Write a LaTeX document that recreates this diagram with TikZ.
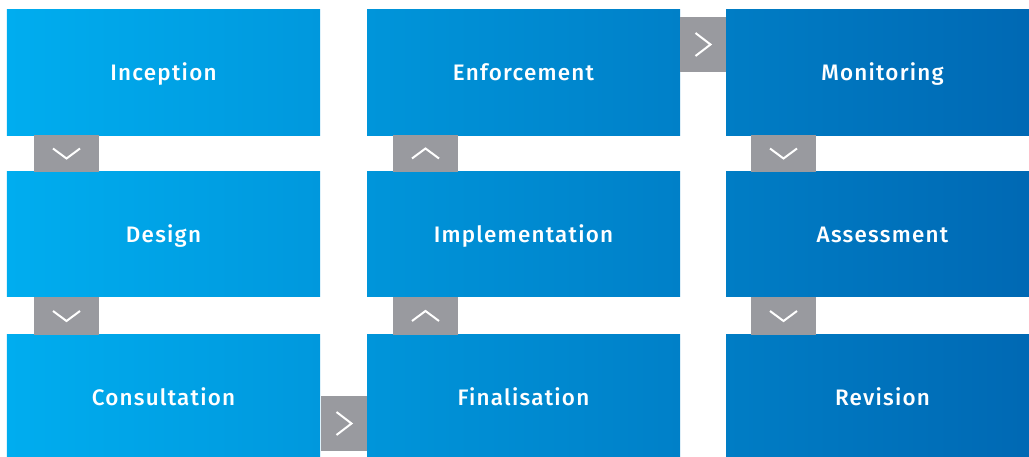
\documentclass[tikz,border=0pt]{standalone}
\usepackage{fontspec}
\newfontfamily\boxfont[LetterSpace=5.5]{Fira Sans Medium}
\definecolor{bl1}{RGB}{0,173,239}
\definecolor{bl2}{RGB}{0,152,221}
\definecolor{bl3}{RGB}{0,149,218}
\definecolor{bl4}{RGB}{0,128,200}
\definecolor{bl5}{RGB}{0,125,197}
\definecolor{bl6}{RGB}{0,104,179}
\definecolor{linkgrey}{RGB}{153,154,159}

\begin{document}
\begin{tikzpicture}[x=1bp,y=-1bp,
   box/.style 2 args={rectangle,minimum width=313bp,minimum height=125bp,inner sep=0pt,
      text height=15.5bp,text depth=0pt,
      left color=#1,right color=#2,text=white,font=\boxfont\fontsize{22.5}{27}\selectfont},
   link/.style 2 args={rectangle,fill=linkgrey,minimum width=#1,minimum height=#2,inner sep=0pt},
   chev/.style={draw=white,line width=2bp}]
   \useasboundingbox (0,0) rectangle (1029,457);

   \node[box={bl1}{bl2}, minimum height=126bp] (b1) at (163.5,72.5)  {Inception};
   \node[box={bl1}{bl2}] (b2) at (163.5,234.5) {Design};
   \node[box={bl1}{bl2}] (b3) at (163.5,397.5) {Consultation};

   \node[box={bl3}{bl4}, minimum height=126bp] (b4) at (523.5,72.5)  {Enforcement};
   \node[box={bl3}{bl4}] (b5) at (523.5,234.5) {Implementation};
   \node[box={bl3}{bl4}] (b6) at (523.5,397.5) {Finalisation};

   \node[box={bl5}{bl6}, minimum height=126bp] (b7) at (882.5,72.5)  {Monitoring};
   \node[box={bl5}{bl6}] (b8) at (882.5,234.5) {Assessment};
   \node[box={bl5}{bl6}] (b9) at (882.5,397.5) {Revision};


   \node[link={65bp}{37bp}] (g1) at (66.5,153.5) {};
   \node[link={65bp}{38bp}] (g2) at (66.5,316) {};
   \node[link={46bp}{55bp}] (g3) at (344,423.5) {};
   \node[link={65bp}{38bp}] (g4) at (425.5,316) {};
   \node[link={65bp}{37bp}] (g5) at (425.5,153.5) {};
   \node[link={46bp}{55bp}] (g6) at (703,44.5) {};
   \node[link={65bp}{37bp}] (g7) at (783.5,153.5) {};
   \node[link={65bp}{38bp}] (g8) at (783.5,316) {};


   \draw[chev] ([shift={(-13.5,-5)}]g1.center) -- ([shift={(0,5)}]g1.center) -- ([shift={(13.5,-5)}]g1.center);
   \draw[chev] ([shift={(-13.5,-5)}]g2.center) -- ([shift={(0,5)}]g2.center) -- ([shift={(13.5,-5)}]g2.center);
   \draw[chev] ([shift={(-7.5,-11.5)}]g3.center) -- ([shift={(7.5,0)}]g3.center) -- ([shift={(-7.5,11.5)}]g3.center);
   \draw[chev] ([shift={(-13.5,5)}]g4.center) -- ([shift={(0,-5)}]g4.center) -- ([shift={(13.5,5)}]g4.center);
   \draw[chev] ([shift={(-13.5,5)}]g5.center) -- ([shift={(0,-5)}]g5.center) -- ([shift={(13.5,5)}]g5.center);
   \draw[chev] ([shift={(-7.5,-11.5)}]g6.center) -- ([shift={(7.5,0)}]g6.center) -- ([shift={(-7.5,11.5)}]g6.center);
   \draw[chev] ([shift={(-13.5,-5)}]g7.center) -- ([shift={(0,5)}]g7.center) -- ([shift={(13.5,-5)}]g7.center);
   \draw[chev] ([shift={(-13.5,-5)}]g8.center) -- ([shift={(0,5)}]g8.center) -- ([shift={(13.5,-5)}]g8.center);
\end{tikzpicture}
\end{document}
